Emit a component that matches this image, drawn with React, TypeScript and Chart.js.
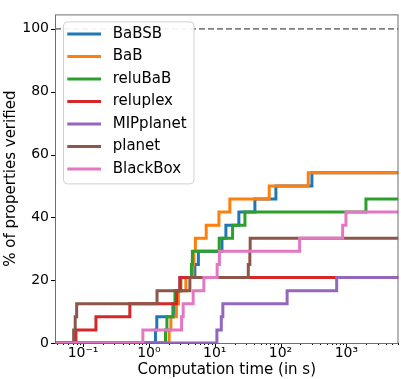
import React, { useEffect, useRef } from 'react';
import { Chart, registerables } from 'chart.js';

Chart.register(...registerables);

// ---- data ----
const N_PROPS = 24;
const X_MIN = 0.0375;
const X_MAX = 6200;
const Y_MAX = 104.6;
const Y_TICKS = [0, 20, 40, 60, 80, 100];
const X_TICK_LABELS: Record<string, string> = {
  '-1': '10⁻¹',
  '0': '10⁰',
  '1': '10¹',
  '2': '10²',
  '3': '10³',
};
const SERIES_NAMES = ['BaBSB', 'BaB', 'reluBaB', 'reluplex', 'MIPplanet', 'planet', 'BlackBox'];
const SERIES_COLORS = ['#1f77b4', '#ff7f0e', '#2ca02c', '#d62728', '#9467bd', '#8c564b', '#e377c2'];

// solve times (s) of each verified property, sorted
const timesBaBSB = [1.26, 1.32, 2.36, 2.76, 2.96, 5.0, 5.65, 12.9, 14.8, 23.3, 40.8, 85.1, 300];
const timesBaB = [2.03, 2.16, 2.62, 2.81, 3.65, 4.66, 4.83, 5.09, 7.43, 11.6, 17.0, 67.3, 264];
const timesReluBaB = [1.79, 1.88, 2.32, 2.49, 3.06, 4.43, 4.58, 11.7, 18.7, 28.8, 1986];
const timesReluplex = [0.078, 0.157, 0.514, 2.64, 2.96];
const timesMIPplanet = [10.8, 12.6, 13.3, 126, 713];
const timesPlanet = [0.072, 0.076, 0.08, 1.33, 4.2, 32.4, 34.2, 34.6];
const timesBlackBox = [0.81, 3.14, 3.32, 4.71, 6.85, 10.9, 11.8, 195, 879, 986];

const SERIES_TIMES = [timesBaBSB, timesBaB, timesReluBaB, timesReluplex, timesMIPplanet, timesPlanet, timesBlackBox];

const FONT = 'DejaVu Sans';

function isPow10(v: number) {
  const l = Math.log10(v);
  return Math.abs(l - Math.round(l)) < 1e-9;
}

const decorPlugin = {
  id: 'decor',
  afterDatasetsDraw(chart: any) {
    const { ctx, chartArea } = chart;
    const { left, top } = chartArea;
    const lx = left + 8.5;
    const ly = top + 7.5;
    const lw = 130.5;
    const lh = 162;
    ctx.save();
    ctx.beginPath();
    ctx.roundRect(lx, ly, lw, lh, 4);
    ctx.fillStyle = 'rgba(255,255,255,0.92)';
    ctx.fill();
    ctx.strokeStyle = '#d0d0d0';
    ctx.lineWidth = 1;
    ctx.stroke();
    ctx.font = `15px "${FONT}"`;
    ctx.textBaseline = 'middle';
    ctx.textAlign = 'left';
    SERIES_NAMES.forEach((name, i) => {
      const cy = top + 19.7 + i * 22.5;
      ctx.beginPath();
      ctx.strokeStyle = SERIES_COLORS[i];
      ctx.lineWidth = 3;
      ctx.moveTo(left + 12.3, cy);
      ctx.lineTo(left + 46, cy);
      ctx.stroke();
      ctx.fillStyle = '#000';
      ctx.fillText(name, left + 57.7, cy);
    });
    ctx.restore();
  },
  afterDraw(chart: any) {
    const { ctx, chartArea, scales } = chart;
    const { left, right, top, bottom } = chartArea;
    const xs = scales.x;
    const ys = scales.y;
    ctx.save();
    ctx.strokeStyle = '#000';
    ctx.lineWidth = 1;
    ctx.beginPath();
    Y_TICKS.forEach((v) => {
      const py = Math.round(ys.getPixelForValue(v)) + 0.5;
      ctx.moveTo(left - 4, py);
      ctx.lineTo(left, py);
    });
    xs.ticks.forEach((t: any) => {
      const px = Math.round(xs.getPixelForValue(t.value)) + 0.5;
      const len = isPow10(t.value) ? 4 : 2;
      ctx.moveTo(px, bottom);
      ctx.lineTo(px, bottom + len);
    });
    ctx.stroke();
    ctx.strokeStyle = '#6e6e6e';
    ctx.strokeRect(left + 0.5, top + 0.5, right - left - 1, bottom - top);
    ctx.restore();
  },
};

export default function App() {
  const ref = useRef<HTMLCanvasElement>(null);
  useEffect(() => {
    document.body.style.margin = '0';
    const canvas = ref.current!;
    const datasets: any[] = SERIES_TIMES.map((times, i) => ({
      label: SERIES_NAMES[i],
      data: [
        { x: X_MIN, y: 0 },
        ...times.map((t, k) => ({ x: t, y: ((k + 1) * 100) / N_PROPS })),
        { x: X_MAX, y: (times.length * 100) / N_PROPS },
      ],
      borderColor: SERIES_COLORS[i],
      backgroundColor: SERIES_COLORS[i],
      borderWidth: 3,
      pointRadius: 0,
      stepped: true,
      fill: false,
      order: 10 - i,
    }));
    datasets.push({
      label: 'all',
      data: [
        { x: X_MIN, y: 100 },
        { x: X_MAX, y: 100 },
      ],
      borderColor: '#808080',
      borderWidth: 1.6,
      borderDash: [6, 3],
      pointRadius: 0,
      fill: false,
      order: 30,
    });

    const xTicks: number[] = [];
    for (let e = -2; e <= 4; e++) {
      for (let m = 1; m <= 9; m++) {
        const v = m * Math.pow(10, e);
        if (v >= X_MIN && v <= X_MAX) xTicks.push(v);
      }
    }

    const chart = new Chart(canvas, {
      type: 'line',
      data: { datasets },
      plugins: [decorPlugin],
      options: {
        animation: false,
        responsive: false,
        devicePixelRatio: 1,
        layout: { padding: { left: 0, right: 2.5, top: 2, bottom: 0 } },
        plugins: { legend: { display: false }, tooltip: { enabled: false } },
        scales: {
          x: {
            type: 'logarithmic',
            min: X_MIN,
            max: X_MAX,
            afterBuildTicks: (scale: any) => {
              scale.ticks = xTicks.map((v) => ({ value: v, major: isPow10(v) }));
            },
            afterFit: (scale: any) => {
              scale.height = 36;
            },
            ticks: {
              autoSkip: false,
              maxRotation: 0,
              minRotation: 0,
              padding: 2,
              color: '#000',
              font: { family: FONT, size: 14 },
              callback: (v: any) => {
                const n = Number(v);
                if (!isPow10(n)) return '';
                return X_TICK_LABELS[String(Math.round(Math.log10(n)))] ?? '';
              },
            },
            grid: { display: false, drawTicks: false },
            border: { display: false },
            title: {
              display: true,
              text: 'Computation time (in s)',
              color: '#000',
              font: { family: FONT, size: 15 },
              padding: { top: 0, bottom: 0 },
            },
          },
          y: {
            type: 'linear',
            min: 0,
            max: Y_MAX,
            afterBuildTicks: (scale: any) => {
              scale.ticks = Y_TICKS.map((v) => ({ value: v }));
            },
            afterFit: (scale: any) => {
              scale.width = 55;
            },
            ticks: {
              padding: 6,
              color: '#000',
              font: { family: FONT, size: 14 },
            },
            grid: { display: false, drawTicks: false },
            border: { display: false },
            title: {
              display: true,
              text: '% of properties verified',
              color: '#000',
              font: { family: FONT, size: 15 },
              padding: { top: 2, bottom: 0 },
            },
          },
        },
      } as any,
    });
    return () => chart.destroy();
  }, []);
  return <canvas ref={ref} width={401} height={379} style={{ display: 'block' }} />;
}
